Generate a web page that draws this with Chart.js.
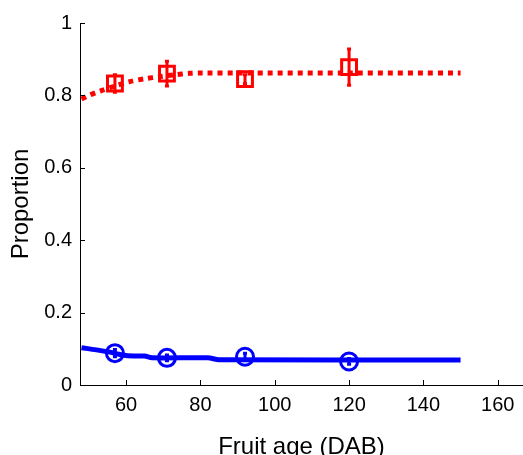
<!DOCTYPE html>
<html>
<head>
<meta charset="utf-8">
<script src="https://cdn.jsdelivr.net/npm/chart.js@4.4.0/dist/chart.umd.min.js"></script>
<style>
  html, body { margin: 0; padding: 0; background: #fff; overflow: hidden; }
  canvas { display: block; }
</style>
</head>
<body>
<canvas id="chart" width="523" height="455"></canvas>
<script>
// sampled fruits: age (DAB), mean proportion and error
var sampleAges = [57, 71, 92, 120];
var redMeans = [0.833, 0.860, 0.845, 0.878];
var redErrors = [0.024, 0.034, 0.012, 0.05];
var blueMeans = [0.088, 0.075, 0.078, 0.065];
var blueErrors = [0.01, 0.008, 0.01, 0.008];

// fitted curves
var redCurveAges = [48, 50, 53, 57, 61, 65, 69, 73, 77, 80, 150];
var redCurveValues = [0.79, 0.80, 0.812, 0.826, 0.838, 0.846, 0.852, 0.857, 0.861, 0.862, 0.862];
var blueCurveAges = [48, 52, 56, 59, 62, 65, 67, 82, 85, 150];
var blueCurveValues = [0.103, 0.097, 0.09, 0.083, 0.08, 0.08, 0.075, 0.075, 0.07, 0.069];

var xTicks = [60, 80, 100, 120, 140, 160];
var yTicks = [0, 0.2, 0.4, 0.6, 0.8, 1];
var yTickLabels = ['0', '0.2', '0.4', '0.6', '0.8', '1'];

function toPoints(xs, ys) {
  return xs.map(function (x, i) { return { x: x, y: ys[i] }; });
}

var font = '"Liberation Sans", Arial, Helvetica, sans-serif';

// error bars drawn on top of the markers
var errorBars = {
  id: 'errorBars',
  afterDatasetsDraw: function (chart) {
    var ctx = chart.ctx;
    var xs = chart.scales.x, ys = chart.scales.y;
    chart.data.datasets.forEach(function (ds) {
      if (!ds.errors) return;
      ctx.save();
      ctx.strokeStyle = ds.borderColor;
      ctx.lineWidth = 3;
      ds.data.forEach(function (p, i) {
        var px = xs.getPixelForValue(p.x);
        var top = ys.getPixelForValue(p.y + ds.errors[i]);
        var bot = ys.getPixelForValue(p.y - ds.errors[i]);
        ctx.beginPath();
        ctx.moveTo(px, top); ctx.lineTo(px, bot);
        ctx.moveTo(px - 2, top); ctx.lineTo(px + 2, top);
        ctx.moveTo(px - 2, bot); ctx.lineTo(px + 2, bot);
        ctx.stroke();
      });
      ctx.restore();
    });
  }
};

// tick marks pointing into the plot, like the original
var innerTicks = {
  id: 'innerTicks',
  afterDraw: function (chart) {
    var ctx = chart.ctx;
    var a = chart.chartArea;
    ctx.save();
    ctx.strokeStyle = '#000';
    ctx.lineWidth = 1;
    ctx.beginPath();
    xTicks.forEach(function (v) {
      var px = Math.round(chart.scales.x.getPixelForValue(v)) + 0.5;
      ctx.moveTo(px, a.bottom); ctx.lineTo(px, a.bottom - 5);
    });
    yTicks.forEach(function (v) {
      var py = Math.round(chart.scales.y.getPixelForValue(v)) + 0.5;
      ctx.moveTo(a.left, py); ctx.lineTo(a.left + 5, py);
    });
    ctx.stroke();
    ctx.restore();
  }
};

var ctx = document.getElementById('chart').getContext('2d');
var chart = new Chart(ctx, {
  type: 'scatter',
  data: {
    datasets: [
      {
        data: toPoints(sampleAges, redMeans),
        errors: redErrors,
        borderColor: '#ff0000',
        backgroundColor: 'rgba(0,0,0,0)',
        pointStyle: 'rect',
        pointRadius: 10.5,
        pointBorderWidth: 3,
        order: 1
      },
      {
        data: toPoints(sampleAges, blueMeans),
        errors: blueErrors,
        borderColor: '#0000ff',
        backgroundColor: 'rgba(0,0,0,0)',
        pointStyle: 'circle',
        pointRadius: 8.5,
        pointBorderWidth: 3,
        order: 2
      },
      {
        type: 'line',
        data: toPoints(redCurveAges, redCurveValues),
        borderColor: '#ff0000',
        borderWidth: 5,
        borderDash: [5, 5],
        borderCapStyle: 'butt',
        pointRadius: 0,
        tension: 0.3,
        order: 3
      },
      {
        type: 'line',
        data: toPoints(blueCurveAges, blueCurveValues),
        borderColor: '#0000ff',
        borderWidth: 5,
        pointRadius: 0,
        tension: 0.3,
        order: 4
      }
    ]
  },
  options: {
    responsive: false,
    animation: false,
    layout: { autoPadding: false, padding: { top: 23, right: 0, left: 0, bottom: 0 } },
    plugins: {
      legend: { display: false },
      tooltip: { enabled: false }
    },
    scales: {
      x: {
        type: 'linear',
        min: 47.6,
        max: 166.8,
        afterBuildTicks: function (scale) {
          scale.ticks = xTicks.map(function (v) { return { value: v }; });
        },
        afterFit: function (scale) {
          scale.height = 70;
          scale.paddingLeft = 0;
          scale.paddingRight = 0;
        },
        grid: { display: false, drawTicks: false },
        border: { display: true, color: '#000', width: 1 },
        ticks: {
          padding: 8,
          color: '#000',
          font: { family: font, size: 20 },
          maxRotation: 0
        },
        title: {
          display: true,
          text: 'Fruit age (DAB)',
          color: '#000',
          font: { family: font, size: 24, lineHeight: 1 },
          padding: { top: 0, bottom: -4 }
        }
      },
      y: {
        min: 0,
        max: 1,
        afterBuildTicks: function (scale) {
          scale.ticks = yTicks.map(function (v) { return { value: v }; });
        },
        afterFit: function (scale) {
          scale.width = 80;
          scale.paddingTop = 0;
          scale.paddingBottom = 0;
        },
        grid: { display: false, drawTicks: false },
        border: { display: true, color: '#000', width: 1 },
        ticks: {
          padding: 8,
          color: '#000',
          font: { family: font, size: 20 },
          callback: function (value) {
            var i = yTicks.indexOf(value);
            return i >= 0 ? yTickLabels[i] : '';
          }
        },
        title: {
          display: true,
          text: 'Proportion',
          color: '#000',
          font: { family: font, size: 24, lineHeight: 1 },
          padding: { top: 9, bottom: 0 }
        }
      }
    }
  },
  plugins: [errorBars, innerTicks]
});
</script>
</body>
</html>
